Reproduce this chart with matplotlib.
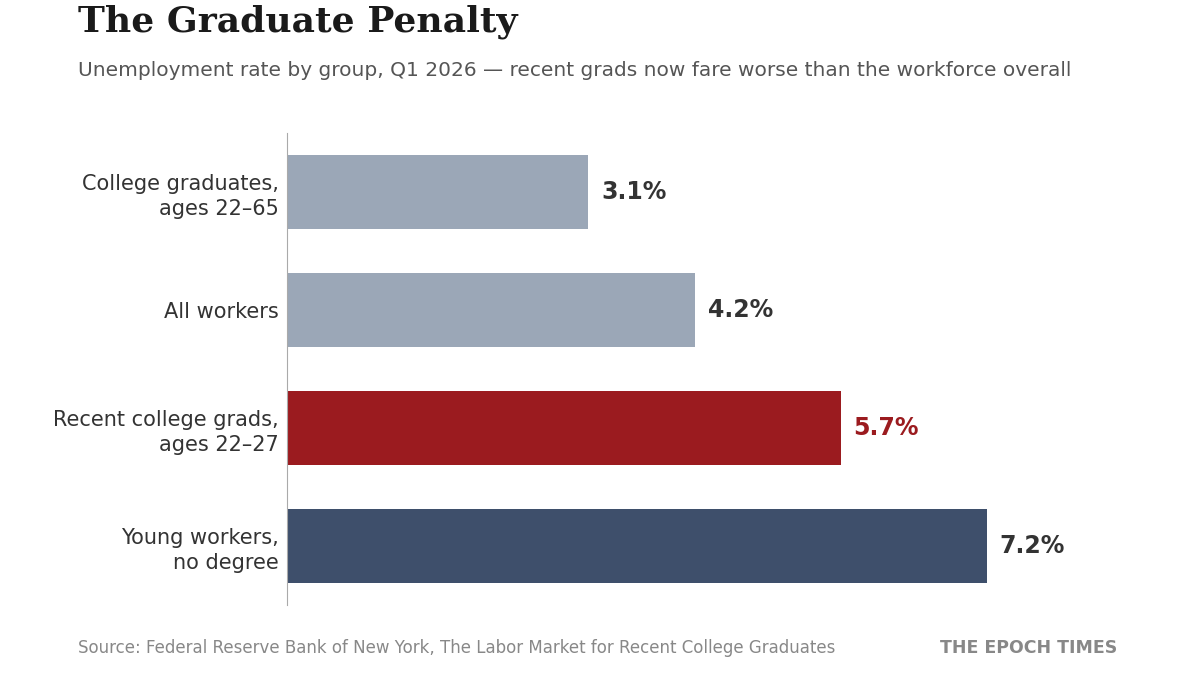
import matplotlib
matplotlib.use("Agg")
import matplotlib.pyplot as plt

categories = ["College graduates,\nages 22–65", "All workers", "Recent college grads,\nages 22–27", "Young workers,\nno degree"]
values = [3.1, 4.2, 5.7, 7.2]
colors = ["#9BA7B7", "#9BA7B7", "#9B1B1F", "#3E4F6B"]
label_colors = ["#333333", "#333333", "#9B1B1F", "#333333"]

W, H = 1200, 675
fig = plt.figure(figsize=(12, 6.75), dpi=100)
ax = fig.add_axes([287/W, 1-605/H, (97.2*8.5)/W, 472/H])
y = list(range(len(categories)))
ax.barh(y, values, height=0.62, color=colors)
ax.set_ylim(3.5, -0.5)
ax.set_xlim(0, 8.5)
ax.set_yticks(y)
ax.set_yticklabels(categories, fontsize=15, color="#333333", linespacing=1.3)
ax.tick_params(axis="y", length=0, pad=6)
ax.set_xticks([])
for s in ["top", "right", "bottom"]:
    ax.spines[s].set_visible(False)
ax.spines["left"].set_color("#AAAAAA")
for i, v in enumerate(values):
    ax.text(v + 0.13, i, f"{v}%", va="center", ha="left", fontsize=17,
            fontweight="bold", color=label_colors[i])

fig.text(78/W, 1-22/H, "The Graduate Penalty", fontsize=26, fontweight="bold",
         family="DejaVu Serif", color="#1a1a1a", va="center", ha="left")
fig.text(78/W, 1-70/H, "Unemployment rate by group, Q1 2026 — recent grads now fare worse than the workforce overall",
         fontsize=14.5, color="#555555", va="center", ha="left")
fig.text(78/W, 1-648/H, "Source: Federal Reserve Bank of New York, The Labor Market for Recent College Graduates",
         fontsize=12, color="#888888", va="center", ha="left")
fig.text(1117/W, 1-648/H, "THE EPOCH TIMES", fontsize=12.5, fontweight="bold",
         color="#888888", va="center", ha="right")
fig.savefig("out.png", dpi=100, facecolor="white")
